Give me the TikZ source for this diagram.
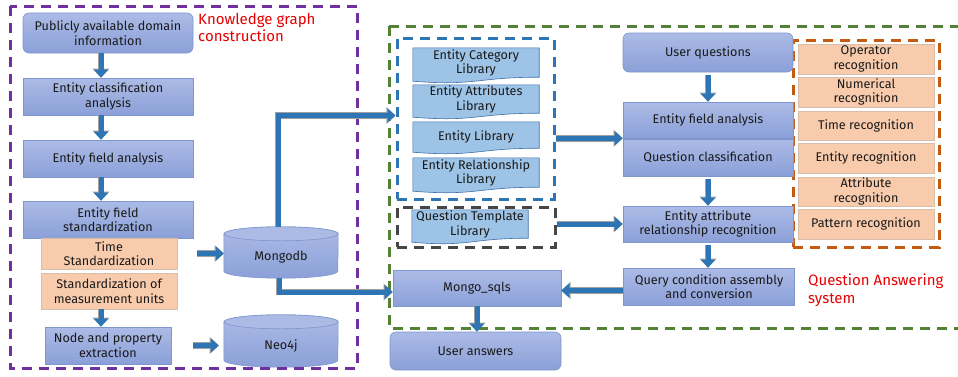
\documentclass[tikz,border=0pt]{standalone}
\usepackage{fontspec}
\setmainfont{Fira Sans}
\usetikzlibrary{arrows.meta,calc}
\pgfdeclarelayer{background}
\pgfsetlayers{background,main}
\definecolor{boxtop}{RGB}{172,187,230}
\definecolor{boxbot}{RGB}{139,160,216}
\definecolor{boxline}{RGB}{125,150,205}
\definecolor{libfill}{RGB}{157,195,230}
\definecolor{libline}{RGB}{65,113,170}
\definecolor{orfill}{RGB}{248,203,173}
\definecolor{orline}{RGB}{215,190,170}
\definecolor{flowblue}{RGB}{46,117,182}
\definecolor{flowedge}{RGB}{160,160,160}
\definecolor{purp}{RGB}{112,48,160}
\definecolor{grn}{RGB}{84,130,53}
\definecolor{dblue}{RGB}{46,117,182}
\definecolor{dgrey}{RGB}{70,70,70}
\definecolor{orng}{RGB}{197,90,17}
\definecolor{redtxt}{RGB}{230,0,0}
\tikzset{
  txt/.style={font=\fontsize{12.6}{14.5}\selectfont, align=center, text=black!90, inner sep=0pt},
  bluebox/.style={txt, draw=boxline, line width=0.6pt, top color=boxtop, bottom color=boxbot},
  rbox/.style={bluebox, rounded corners=6pt},
  orbox/.style={txt, draw=orline, line width=0.6pt, fill=orfill},
  docnode/.style={txt, minimum width=126pt},
  docshape/.style={fill=libfill, draw=libline, line width=0.6pt},
  cylnode/.style={minimum width=114pt, inner sep=0pt},
  cylbody/.style={top color=boxtop, bottom color=boxbot, draw=boxline, line width=0.6pt},
  dbox/.style={line width=3pt, dash pattern=on 10pt off 7pt},
  flow/.style={line width=5pt, draw=flowblue, -{Triangle[length=8pt,width=14pt]},
    preaction={draw=flowedge, line width=6.6pt, -{Triangle[length=9.2pt,width=16.5pt]}}},
  redlabel/.style={font=\fontsize{15}{17.5}\selectfont, text=redtxt, align=left, inner sep=0pt}
}
\begin{document}
\begin{tikzpicture}[x=1pt,y=1pt]
\clip (0,0) rectangle (958,-376);
\begin{pgfonlayer}{background}
\fill[white] (0,0) rectangle (958,-376);
\end{pgfonlayer}

% dashed frames
\draw[dbox, purp] (10,-6) rectangle (357,-368);
\draw[dbox, grn] (389,-26) -- (975,-26) (389,-26) -- (389,-328) -- (975,-328);
\node[draw=dblue, dbox, minimum width=157pt, minimum height=161pt, inner sep=0pt] (libbox) at (475.5,-118.5) {};
\node[draw=dgrey, dbox, minimum width=158pt, minimum height=40pt, inner sep=0pt] (tplbox) at (476,-227) {};
\node[draw=orng, dbox, minimum width=146pt, minimum height=207pt, inner sep=0pt] (orbox) at (866,-143.5) {};

% left column
\node[rbox, minimum width=170pt, minimum height=40pt] (pub) at (108,-33) {Publicly available domain\\information};
\node[bluebox, minimum width=170pt, minimum height=37pt] (cls) at (108,-96.5) {Entity classification\\analysis};
\node[bluebox, minimum width=170pt, minimum height=37pt] (efa1) at (108,-158.5) {Entity field analysis};
\node[bluebox, minimum width=170pt, minimum height=37pt] (efs) at (108,-219.5) {Entity field\\standardization};
\node[orbox, minimum width=136pt, minimum height=31pt] (timestd) at (109,-253.5) {Time\\Standardization};
\node[orbox, minimum width=136pt, minimum height=36pt] (meas) at (109,-291) {Standardization of\\measurement units};
\node[bluebox, minimum width=126pt, minimum height=37pt] (npe) at (108,-345.5) {Node and property\\extraction};

\node[redlabel, anchor=north west] (kgc) at (198,-13) {Knowledge graph\\construction};

% cylinders
\node[cylnode, minimum height=51pt] (mongo) at (281,-252.5) {};
\node[cylnode, minimum height=52pt] (neo) at (281,-341) {};
\begin{pgfonlayer}{background}
\foreach \c in {mongo,neo}{
  \path[cylbody] ([yshift=-7pt]\c.north west) -- ([yshift=7pt]\c.south west)
     arc[start angle=180,end angle=360,x radius=57pt,y radius=7pt]
     -- ([yshift=-7pt]\c.north east)
     arc[start angle=0,end angle=180,x radius=57pt,y radius=7pt] -- cycle;
  \draw[fill=boxtop, draw=boxline, line width=0.6pt] ([yshift=-7pt]\c.north) ellipse[x radius=57pt, y radius=7pt];
}
\end{pgfonlayer}
\node[txt] (mongolbl) at ([yshift=-5pt]mongo.center) {Mongodb};
\node[txt] (neolbl) at ([yshift=-5pt]neo.center) {Neo4j};

% libraries
\node[docnode, minimum height=34pt] (cat) at (476,-65) {};
\node[docnode, minimum height=33pt] (attr) at (476,-101.5) {};
\node[docnode, minimum height=31pt] (ent) at (476,-137.5) {};
\node[docnode, minimum height=34pt] (rel) at (476,-175) {};
\node[docnode, minimum width=116pt, minimum height=33pt] (tpl) at (470,-226.5) {};
\begin{pgfonlayer}{background}
\foreach \d in {cat,attr,ent,rel,tpl}{
  \path[docshape] (\d.north west) -- (\d.north east) -- ([yshift=5pt]\d.south east)
    .. controls ([yshift=5pt]\d.south) and ([yshift=-4pt]\d.south) .. ([yshift=1pt]\d.south west) -- cycle;
}
\end{pgfonlayer}
\node[txt] (catlbl) at ([yshift=2pt]cat.center) {Entity Category\\Library};
\node[txt] (attrlbl) at ([yshift=2pt]attr.center) {Entity Attributes\\Library};
\node[txt] (entlbl) at ([yshift=1pt]ent.center) {Entity Library};
\node[txt] (rellbl) at ([yshift=2pt]rel.center) {Entity Relationship\\Library};
\node[txt] (tpllbl) at ([yshift=2pt]tpl.center) {Question Template\\Library};

% right column
\node[rbox, minimum width=170pt, minimum height=39pt] (uq) at (708,-52.5) {User questions};
\node[bluebox, minimum width=170pt, minimum height=36pt] (efa2) at (708,-120) {Entity field analysis};
\node[bluebox, minimum width=170pt, minimum height=37pt] (qc) at (708,-157.5) {Question classification};
\node[bluebox, minimum width=170pt, minimum height=36pt] (ear) at (708,-224) {Entity attribute\\relationship recognition};
\node[bluebox, minimum width=171pt, minimum height=37pt] (query) at (709,-286.5) {Query condition assembly\\and conversion};
\node[bluebox, minimum width=168pt, minimum height=36pt] (sqls) at (477,-288) {Mongo\_sqls};
\node[rbox, minimum width=171pt, minimum height=38pt] (ans) at (475.5,-351) {User answers};

% recognitions
\node[orbox, minimum width=136pt, minimum height=30pt] (op) at (866,-59) {Operator\\recognition};
\node[orbox, minimum width=136pt, minimum height=30pt] (num) at (866,-92) {Numerical\\recognition};
\node[orbox, minimum width=136pt, minimum height=29pt] (timer) at (866,-125.5) {Time recognition};
\node[orbox, minimum width=136pt, minimum height=30pt] (entr) at (866,-158) {Entity recognition};
\node[orbox, minimum width=136pt, minimum height=29pt] (attrr) at (866,-191.5) {Attribute\\recognition};
\node[orbox, minimum width=136pt, minimum height=30pt] (patr) at (866,-224) {Pattern recognition};

\node[redlabel, anchor=north west] (qas) at (808,-274) {Question Answering\\system};

% connectors
\draw[flow] ([xshift=-7pt]pub.south) -- ([xshift=-7pt]cls.north);
\draw[flow] ([xshift=-7pt]cls.south) -- ([xshift=-7pt]efa1.north);
\draw[flow] ([xshift=-7pt]efa1.south) -- ([xshift=-7pt]efs.north);
\draw[flow] ([xshift=-8pt]meas.south) -- ([xshift=-7pt]npe.north);
\draw[flow] ([xshift=20pt]timestd.east) -- (timestd.east -| mongo.west);
\draw[flow] ([xshift=22pt]npe.east) -- ([xshift=-5pt]npe.east -| neo.west);
\draw[flow] ([xshift=-3pt]mongo.north) |- ([yshift=3pt]libbox.west);
\draw[flow] ([xshift=-2pt]mongo.south) |- ([yshift=-4pt]sqls.west);
\draw[flow] (libbox.east |- efa2.south west) -- (efa2.south west);
\draw[flow] (ear.west -| tplbox.east) -- (ear.west);
\draw[flow] ([yshift=-3pt]uq.south) -- (efa2.north);
\draw[flow] ([yshift=-3pt]qc.south) -- (ear.north);
\draw[flow] ([yshift=-3pt]ear.south) -- ([xshift=-1pt]query.north);
\draw[flow] ([yshift=-4pt]query.west) -- ([yshift=-4pt]query.west -| sqls.east);
\draw[flow] (sqls.south) -- (sqls.south |- ans.north);
\end{tikzpicture}
\end{document}
